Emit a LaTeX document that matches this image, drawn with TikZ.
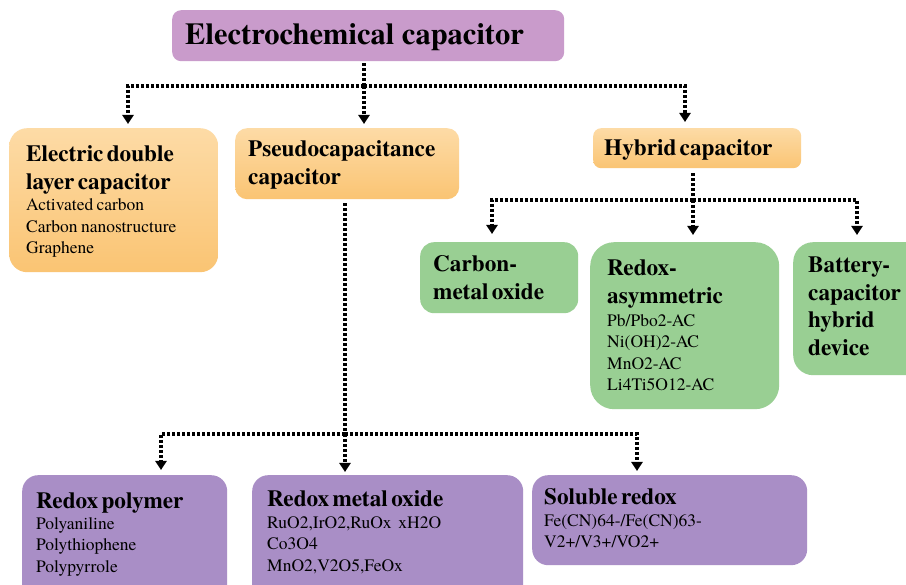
\documentclass[tikz,border=0pt]{standalone}
\usepackage{fontspec}
\setmainfont{texgyretermes}[Extension=.otf, UprightFont=*-regular, BoldFont=*-bold, ItalicFont=*-italic, BoldItalicFont=*-bolditalic]
\usetikzlibrary{arrows.meta,calc}
\definecolor{topP}{HTML}{C99BCB}
\definecolor{orL}{HTML}{FDDBA6}
\definecolor{orD}{HTML}{FAC473}
\definecolor{grn}{HTML}{99CF93}
\definecolor{botP}{HTML}{A98EC6}
\newcommand{\hdf}{\fontsize{23.2}{27.5}\selectfont\bfseries}
\newcommand{\sbf}{\fontsize{17.5}{21.5}\selectfont\mdseries}
\begin{document}
\begin{tikzpicture}[x=1pt,y=-1pt,
  box/.style={draw=none, rounded corners=#1, inner sep=0pt, anchor=north west},
  box/.default=14pt,
  orbox/.style={top color=orL, bottom color=orD},
  txt/.style={anchor=base west, inner sep=0pt, text width=300pt, align=left},
  dl/.style={line width=3.4pt, dash pattern=on 3pt off 2pt},
  dla/.style={dl, -{Triangle[width=11pt,length=9pt]}}
]
\clip (0,0) rectangle (906,585);
\fill[white] (0,0) rectangle (906,585);

% boxes
\node[box=9pt, fill=topP, minimum width=392pt, minimum height=51pt] (top) at (172,10) {};
\node[box=18pt, orbox, minimum width=209pt, minimum height=144pt] (edlc) at (9,128) {};
\node[box=12pt, orbox, minimum width=224pt, minimum height=71pt] (pseudo) at (235,128) {};
\node[box=8pt, orbox, minimum width=208pt, minimum height=40pt] (hybrid) at (593,128) {};
\node[box=14pt, fill=grn, minimum width=158pt, minimum height=71pt] (cmo) at (420,242) {};
\node[box=24pt, fill=grn, minimum width=189pt, minimum height=167pt] (rasym) at (590,242) {};
\node[box=20pt, fill=grn, minimum width=140pt, minimum height=133pt] (batt) at (793,242) {};
\node[box=16pt, fill=botP, minimum width=205pt, minimum height=130pt] (rpoly) at (22,475) {};
\node[box=16pt, fill=botP, minimum width=271pt, minimum height=130pt] (rmo) at (252,475) {};
\node[box=16pt, fill=botP, minimum width=275pt, minimum height=90pt] (solr) at (532,475) {};

% texts
\node[anchor=base west, inner sep=0pt, font=\fontsize{30.5}{34}\selectfont\bfseries] (top-t) at (185,45) {Electrochemical capacitor};
\node[txt] (edlc-t) at (26,162) {{\hdf Electric double\par layer capacitor\par}{\sbf Activated carbon\par Carbon nanostructure\par Graphene\par}};
\node[txt] (pseudo-t) at (248,157) {{\hdf Pseudocapacitance\par capacitor\par}};
\node[txt] (hybrid-t) at (604,156) {{\hdf Hybrid capacitor\par}};
\node[txt] (cmo-t) at (433,272) {{\hdf Carbon-\par metal oxide\par}};
\node[txt] (rasym-t) at (607,276) {{\hdf Redox-\par asymmetric\par}{\sbf\vspace{1.5pt}Pb/Pbo2-AC\par Ni(OH)2-AC\par MnO2-AC\par Li4Ti5O12-AC\par}};
\node[txt] (batt-t) at (808,273) {{\hdf Battery-\par capacitor\par hybrid\par device\par}};
\node[txt] (rpoly-t) at (36,508) {{\hdf Redox polymer\par}{\sbf Polyaniline\par Polythiophene\par Polypyrrole\par}};
\node[txt] (rmo-t) at (267,507) {{\hdf Redox metal oxide\par}{\sbf RuO2,IrO2,RuOx\ \ xH2O\par Co3O4\par MnO2,V2O5,FeOx\par}};
\node[txt] (solr-t) at (544,505) {{\hdf Soluble redox\par}{\sbf Fe(CN)64-/Fe(CN)63-\par V2+/V3+/VO2+\par}};

% junctions and branch columns
\coordinate (j1) at (364,86);
\coordinate (xa) at (128,0);
\coordinate (xc) at (685,0);
\coordinate (j2) at (693,200);
\coordinate (xd) at (492,0);
\coordinate (xe) at (857,0);
\coordinate (j3) at (345,434);
\coordinate (xf) at (161,0);
\coordinate (xg) at (637,0);

% connectors
\draw[dl] ([yshift=-2pt]top.south -| j1) -- (j1);
\draw[dla] (j1) -| ([yshift=4pt]edlc.north -| xa);
\draw[dla] (j1) -- ([yshift=4pt]pseudo.north -| j1);
\draw[dla] (j1) -| ([yshift=6pt]hybrid.north -| xc);

\draw[dl] ([yshift=-5pt]hybrid.south -| j2) -- (j2);
\draw[dla] (j2) -| ([yshift=8pt]cmo.north -| xd);
\draw[dla] (j2) -- ([yshift=7pt]rasym.north -| j2);
\draw[dla] (j2) -| ([yshift=7pt]batt.north -| xe);

\draw[dl] ([yshift=-4pt]pseudo.south -| j3) -- (j3);
\draw[dla] (j3) -| ([yshift=5pt]rpoly.north -| xf);
\draw[dla] (j3) -- ([yshift=3pt]rmo.north -| j3);
\draw[dla] (j3) -| ([yshift=4pt]solr.north -| xg);
\end{tikzpicture}
\end{document}
